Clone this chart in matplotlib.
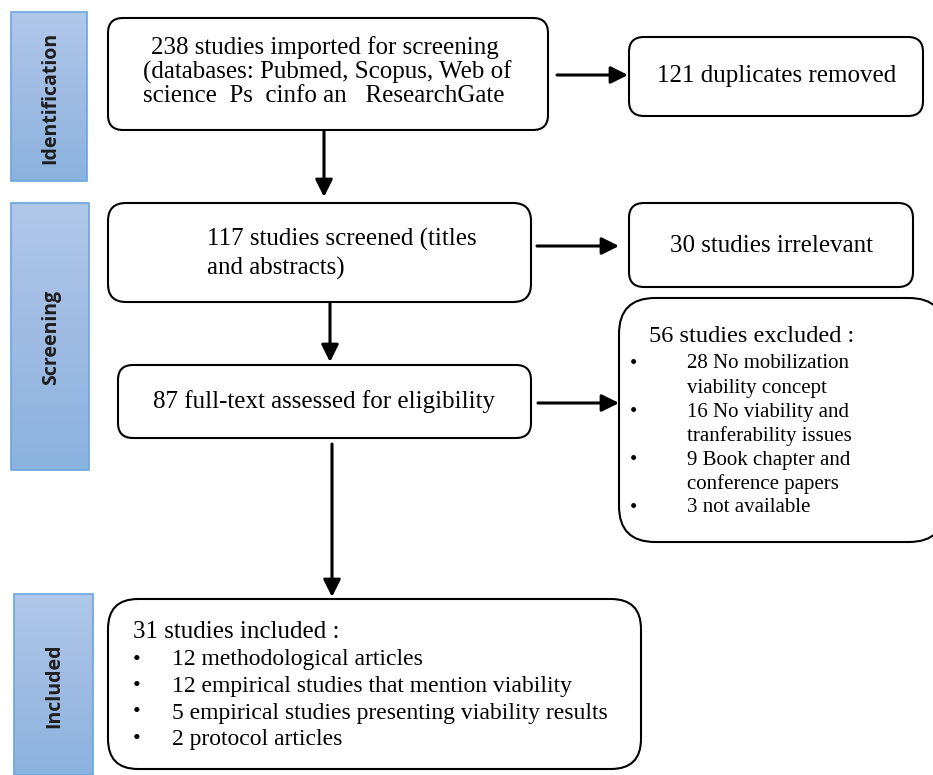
import matplotlib
matplotlib.use("Agg")
import matplotlib.pyplot as plt
from matplotlib.patches import FancyBboxPatch, Rectangle
from matplotlib.colors import LinearSegmentedColormap
import numpy as np

# ---- data ----
stages = ["Identification", "Screening", "Included"]
box1_lines = ["238 studies imported for screening",
              "(databases: Pubmed, Scopus, Web of",
              "science  Ps  cinfo an   ResearchGate"]
dup_text = "121 duplicates removed"
screen_lines = ["117 studies screened (titles", "and abstracts)"]
irrelevant_text = "30 studies irrelevant"
fulltext_text = "87 full-text assessed for eligibility"
excluded_head = "56 studies excluded :"
excluded_items = ["28 No mobilization\nviability concept",
                  "16 No viability and\ntranferability issues",
                  "9 Book chapter and\nconference papers",
                  "3 not available"]
included_head = "31 studies included :"
included_items = ["12 methodological articles",
                  "12 empirical studies that mention viability",
                  "5 empirical studies presenting viability results",
                  "2 protocol articles"]

W, H = 933, 775
fig = plt.figure(figsize=(W / 100, H / 100), dpi=100)
ax = fig.add_axes([0, 0, 1, 1])
ax.set_xlim(0, W)
ax.set_ylim(H, 0)
ax.axis("off")

SERIF = "Liberation Serif"
SANS = "Open Sans"

# ---- stage side bars with vertical gradient ----
bars = [(11, 12, 76, 169), (11, 203, 78, 267), (14, 594, 79, 181)]
grad = np.linspace(0, 1, 256).reshape(-1, 1)
cmap = LinearSegmentedColormap.from_list("bl", ["#b0c8e9", "#9fbbe4", "#8ab3df"])
for (x, y, w, h), name in zip(bars, stages):
    rect = Rectangle((x, y), w, h, facecolor="none", edgecolor="#6aa6dd", lw=1.2, zorder=3)
    ax.add_patch(rect)
    im = ax.imshow(grad, extent=(x, x + w, y + h, y), cmap=cmap, aspect="auto", zorder=2)
    im.set_clip_path(rect)
    ax.text(x + w / 2 + 1, y + h / 2 + 1, name, rotation=90, ha="center", va="center",
            fontsize=14, fontweight="bold", family=SANS, color="#1e1e1e", zorder=4)
ax.set_xlim(0, W)
ax.set_ylim(H, 0)


def rbox(x0, y0, x1, y1, r):
    p = FancyBboxPatch((x0, y0), x1 - x0, y1 - y0,
                       boxstyle=f"round,pad=0,rounding_size={r}",
                       facecolor="white", edgecolor="black", lw=1.5, zorder=3)
    ax.add_patch(p)


def arrow(x0, y0, x1, y1):
    ax.annotate("", xy=(x1, y1), xytext=(x0, y0),
                arrowprops=dict(arrowstyle="-|>", color="black", lw=2.2,
                                mutation_scale=26, shrinkA=0, shrinkB=0), zorder=5)


FS = 18
# box 1
rbox(108, 18, 548, 130, 15)
ax.text(151, 48, box1_lines[0], ha="left", va="center", fontsize=FS, family=SERIF, zorder=4)
ax.text(143, 72, box1_lines[1], ha="left", va="center", fontsize=FS, family=SERIF, zorder=4)
ax.text(143, 96, box1_lines[2], ha="left", va="center", fontsize=FS, family=SERIF, zorder=4)

# duplicates
rbox(629, 37, 923, 116, 15)
ax.text(777, 76, dup_text, ha="center", va="center", fontsize=FS, family=SERIF, zorder=4)
arrow(557, 75, 628, 75)

arrow(324, 131, 324, 197)

# box 2
rbox(108, 203, 531, 302, 18)
ax.text(207, 239, screen_lines[0], ha="left", va="center", fontsize=FS, family=SERIF, zorder=4)
ax.text(207, 268, screen_lines[1], ha="left", va="center", fontsize=FS, family=SERIF, zorder=4)

# irrelevant
rbox(629, 203, 913, 287, 15)
ax.text(771, 246, irrelevant_text, ha="center", va="center", fontsize=FS, family=SERIF, zorder=4)
arrow(537, 246, 619, 246)

arrow(330, 303, 330, 362)

# box 3
rbox(118, 365, 531, 438, 15)
ax.text(324, 402, fulltext_text, ha="center", va="center", fontsize=FS, family=SERIF, zorder=4)
arrow(538, 403, 619, 403)

# excluded box
rbox(619, 298, 945, 542, 36)
ax.text(649, 336, excluded_head, ha="left", va="center", fontsize=17.5, family=SERIF, zorder=4)
ys = 364
for item in excluded_items:
    ax.text(630, ys, "•", ha="left", va="center", fontsize=15, family=SERIF, zorder=4)
    for ln in item.split("\n"):
        ax.text(687, ys, ln, ha="left", va="center", fontsize=15, family=SERIF, zorder=4)
        ys += 24

arrow(332, 444, 332, 597)

# included box
rbox(108, 599, 641, 769, 30)
ax.text(133, 632, included_head, ha="left", va="center", fontsize=18, family=SERIF, zorder=4)
for i, item in enumerate(included_items):
    y = 660 + i * 26.5
    ax.text(133, y, "•", ha="left", va="center", fontsize=16, family=SERIF, zorder=4)
    ax.text(172, y, item, ha="left", va="center", fontsize=17, family=SERIF, zorder=4)

fig.savefig("out.png", dpi=100)
